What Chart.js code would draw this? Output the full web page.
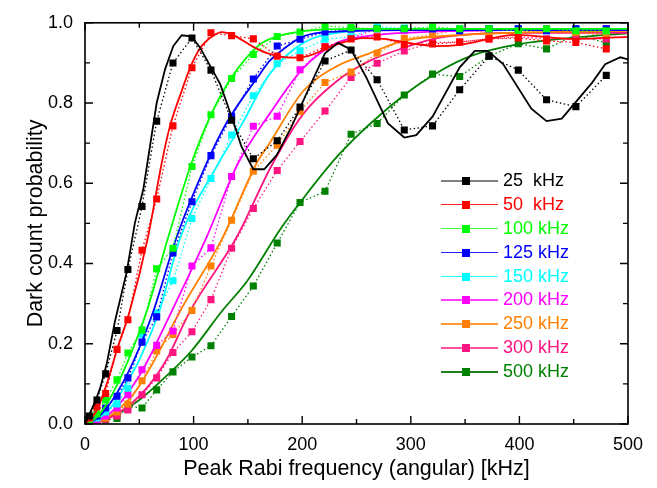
<!DOCTYPE html>
<html>
<head>
<meta charset="utf-8">
<script src="https://cdn.jsdelivr.net/npm/chart.js@4.4.0/dist/chart.umd.min.js"></script>
<style>
body{margin:0;background:#fff;}
#wrap{position:relative;width:657px;height:488px;}
#legend{position:absolute;left:441px;top:169px;font-family:"Liberation Sans",Arial,sans-serif;font-size:18px;}
.row{position:relative;height:23.9px;white-space:pre;}
.row .ln{position:absolute;left:0;top:11px;width:57px;height:1.5px;}
.row .sq{position:absolute;left:21px;top:8px;width:8px;height:8px;}
.row .tx{position:absolute;left:62px;top:1px;}
</style>
</head>
<body>
<div id="wrap">
<canvas id="rabiChart" width="657" height="488"></canvas>
<div id="legend"></div>
</div>
<script>
// measured points: peak Rabi frequency (kHz) shared by all data sets
const xMeas=[4,11,19,29.5,39.5,52.5,66,81,98.5,116,135,155,177,198,221,245,269,294,320,345,372,399,425,452,480];

const meas25=[0.02,0.06,0.125,0.233,0.385,0.542,0.755,0.90,0.962,0.882,0.757,0.661,0.706,0.79,0.905,0.932,0.858,0.733,0.743,0.833,0.917,0.882,0.808,0.791,0.869];
const meas50=[0.015,0.043,0.076,0.186,0.26,0.433,0.561,0.743,0.888,0.975,0.968,0.96,0.917,0.913,0.94,0.96,0.965,0.946,0.947,0.952,0.96,0.962,0.955,0.951,0.935];
const meas100=[0.01,0.025,0.06,0.11,0.177,0.234,0.387,0.438,0.642,0.771,0.861,0.921,0.966,0.977,0.992,0.988,0.985,0.985,0.99,0.985,0.985,0.98,0.985,0.98,0.98];
const meas125=[0.01,0.02,0.04,0.069,0.115,0.204,0.267,0.426,0.554,0.669,0.767,0.86,0.942,0.959,0.977,0.984,0.985,0.985,0.985,0.98,0.985,0.985,0.98,0.985,0.985];
const meas150=[0.01,0.015,0.03,0.05,0.089,0.223,0.277,0.357,0.512,0.612,0.72,0.818,0.898,0.93,0.959,0.965,0.99,0.987,0.985,0.985,0.985,0.985,0.98,0.985,0.98];
const meas200=[0.005,0.01,0.02,0.04,0.073,0.135,0.196,0.232,0.394,0.439,0.617,0.742,0.767,0.883,0.94,0.962,0.985,0.98,0.985,0.985,0.985,0.985,0.985,0.985,0.985];
const meas250=[0.005,0.01,0.015,0.03,0.05,0.108,0.182,0.223,0.283,0.394,0.508,0.63,0.695,0.779,0.851,0.877,0.924,0.961,0.97,0.984,0.975,0.975,0.984,0.975,0.97];
const meas300=[0.005,0.008,0.012,0.02,0.035,0.073,0.115,0.178,0.23,0.31,0.438,0.537,0.632,0.704,0.78,0.864,0.899,0.93,0.951,0.952,0.96,0.965,0.96,0.96,0.96];
const meas500=[0.002,0.005,0.01,0.014,0.044,0.04,0.085,0.13,0.167,0.195,0.268,0.344,0.451,0.552,0.58,0.722,0.749,0.82,0.872,0.866,0.917,0.948,0.935,0.97,0.95];

// theory curves
const thX25=[0,10,14,20,27.6,38.4,46,53.7,66,73.7,81.3,89,98,106,124.5,135,144,155,165,176.5,190,205,221,233,245,259,279,294,305,320,345,359,371,385,411,425,439,467,479,493,500];
const th25=[0,0.06,0.09,0.15,0.256,0.379,0.502,0.585,0.80,0.884,0.942,0.969,0.966,0.938,0.847,0.766,0.692,0.635,0.635,0.67,0.74,0.83,0.924,0.95,0.933,0.864,0.749,0.714,0.72,0.766,0.889,0.93,0.93,0.897,0.786,0.755,0.761,0.851,0.897,0.914,0.909];
const thX50=[0,10,20,30,41,58,70.6,78,89,97,106,117,126,136,155,167,189,202,232,256,275,302,324,345,397,450,500];
const th50=[0,0.03,0.1,0.19,0.28,0.466,0.65,0.74,0.83,0.889,0.937,0.966,0.977,0.97,0.94,0.925,0.913,0.915,0.946,0.962,0.96,0.948,0.942,0.945,0.97,0.96,0.965];
const thX100=[0,10,20,30,40,56.8,76.7,98,115,135,161,176,201,250,500];
const th100=[0,0.015,0.05,0.1,0.16,0.281,0.466,0.65,0.765,0.864,0.946,0.965,0.979,0.985,0.985];
const thX125=[0,10,20,30,40,50,62.9,84.4,112,130,161,170,183,201,232,300,500];
const th125=[0,0.012,0.04,0.08,0.13,0.19,0.281,0.466,0.65,0.749,0.872,0.905,0.935,0.966,0.978,0.982,0.982];
const thX150=[0,10,20,30,40,50,68.4,88,123,145,170,201,232,300,500];
const th150=[0,0.01,0.03,0.065,0.11,0.16,0.281,0.466,0.65,0.75,0.872,0.95,0.975,0.985,0.985];
const thX200=[0,10,20,30,40,50,60,79.8,112,141,170,201,232,263,293,500];
const th200=[0,0.008,0.02,0.045,0.08,0.12,0.17,0.281,0.466,0.65,0.773,0.887,0.95,0.968,0.975,0.985];
const thX250=[0,10,20,30,40,50,60,70,87.5,127,158,170,201,232,262,293,350,500];
const th250=[0,0.005,0.015,0.035,0.06,0.095,0.14,0.19,0.281,0.466,0.65,0.70,0.83,0.892,0.924,0.955,0.97,0.98];
const thX300=[0,10,20,30,40,50,60,75,96.7,139.7,172,201,232,262,293,324,400,500];
const th300=[0,0.004,0.012,0.027,0.045,0.07,0.1,0.16,0.281,0.466,0.645,0.773,0.855,0.905,0.937,0.962,0.975,0.975];
const thX500=[0,25,50,75,98,126,149,180,198,235,293,327,355,398,450,500];
const th500=[0,0.02,0.06,0.12,0.182,0.281,0.355,0.486,0.552,0.675,0.818,0.88,0.917,0.946,0.963,0.974];

const seriesLabels=["25  kHz","50  kHz","100 kHz","125 kHz","150 kHz","200 kHz","250 kHz","300 kHz","500 kHz"];
const seriesColors=["#000000","#ff0000","#00ff00","#0000ff","#00ffff","#ff00ff","#ff8000","#ff1480","#008000"];
const legendLineColors=["#808080","#ff2020","#40ff40","#2020ff","#20ffff","#ff40ff","#ff9933","#ff4fa0","#208020"];

const xMajor=[0,100,200,300,400,500];
const xMinor=[50,150,250,350,450];
const yMajor=[0,0.2,0.4,0.6,0.8,1.0];
const yMinor=[0.1,0.3,0.5,0.7,0.9];

const measSets=[meas25,meas50,meas100,meas125,meas150,meas200,meas250,meas300,meas500];
const theoryX=[thX25,thX50,thX100,thX125,thX150,thX200,thX250,thX300,thX500];
const theoryY=[th25,th50,th100,th125,th150,th200,th250,th300,th500];

const FONT="'Liberation Sans', Arial, sans-serif";

function pairs(xs,ys){return xs.map((x,i)=>({x:x,y:ys[i]}));}

const datasets=[];
seriesLabels.forEach((lab,i)=>{
    datasets.push({
        label:lab+" theory",
        data:pairs(theoryX[i],theoryY[i]),
        borderColor:seriesColors[i],
        borderWidth:1.8,
        pointRadius:0,
        tension:i===0?0:0.4,
        cubicInterpolationMode:i===0?'default':'monotone',
        fill:false
    });
    datasets.push({
        label:lab,
        data:pairs(xMeas,measSets[i]),
        borderColor:seriesColors[i],
        backgroundColor:seriesColors[i],
        borderWidth:1.3,
        borderDash:[1.5,2.5],
        pointStyle:'rect',
        pointRadius:5,
        pointBorderWidth:0,
        pointBackgroundColor:seriesColors[i],
        tension:0,
        fill:false
    });
});

// box round the plot with inward major/minor ticks on all four sides
const frameTicks={
    id:'frameTicks',
    afterDatasetsDraw(chart){
        const {ctx,chartArea:a,scales:{x,y}}=chart;
        ctx.save();
        ctx.strokeStyle='#000';
        ctx.lineWidth=1.6;
        ctx.strokeRect(a.left,a.top,a.right-a.left,a.bottom-a.top);
        ctx.lineWidth=1.4;
        ctx.beginPath();
        const tick=(vals,len)=>{
            vals.forEach(v=>{
                const px=x.getPixelForValue(v);
                ctx.moveTo(px,a.bottom);ctx.lineTo(px,a.bottom-len);
                ctx.moveTo(px,a.top);ctx.lineTo(px,a.top+len);
            });
        };
        const tickY=(vals,len)=>{
            vals.forEach(v=>{
                const py=y.getPixelForValue(v);
                ctx.moveTo(a.left,py);ctx.lineTo(a.left+len,py);
                ctx.moveTo(a.right,py);ctx.lineTo(a.right-len,py);
            });
        };
        tick(xMajor,8);tick(xMinor,5);
        tickY(yMajor,8);tickY(yMinor,5);
        ctx.stroke();
        ctx.restore();
    }
};

new Chart(document.getElementById("rabiChart").getContext("2d"),{
    type:'line',
    data:{datasets:datasets},
    options:{
        responsive:false,
        animation:false,
        layout:{padding:{top:18,right:29,left:0,bottom:0}},
        plugins:{legend:{display:false},tooltip:{enabled:false}},
        scales:{
            x:{
                type:'linear',min:0,max:500,
                ticks:{stepSize:100,padding:10,color:'#000',maxRotation:0,font:{family:FONT,size:18}},
                grid:{display:false,drawTicks:false},
                border:{display:false},
                title:{display:true,text:'Peak Rabi frequency (angular) [kHz]',color:'#000',font:{family:FONT,size:21.5},padding:{top:0,bottom:6}},
                afterFit(s){s.height=64;}
            },
            y:{
                min:0,max:1,
                ticks:{stepSize:0.2,padding:12,color:'#000',font:{family:FONT,size:18},callback:v=>v.toFixed(1)},
                grid:{display:false,drawTicks:false},
                border:{display:false},
                title:{display:true,text:'Dark count probability',color:'#000',font:{family:FONT,size:21.5},padding:{top:23,bottom:0}},
                afterFit(s){s.width=85;}
            }
        }
    },
    plugins:[frameTicks]
});

// legend inside the plot, line + square + coloured label
const legendBox=document.getElementById("legend");
seriesLabels.forEach((lab,i)=>{
    const row=document.createElement("div");
    row.className="row";
    row.innerHTML=`<div class="ln" style="background:${legendLineColors[i]}"></div><div class="sq" style="background:${seriesColors[i]}"></div><span class="tx" style="color:${seriesColors[i]}">${lab}</span>`;
    legendBox.appendChild(row);
});
</script>
</body>
</html>
